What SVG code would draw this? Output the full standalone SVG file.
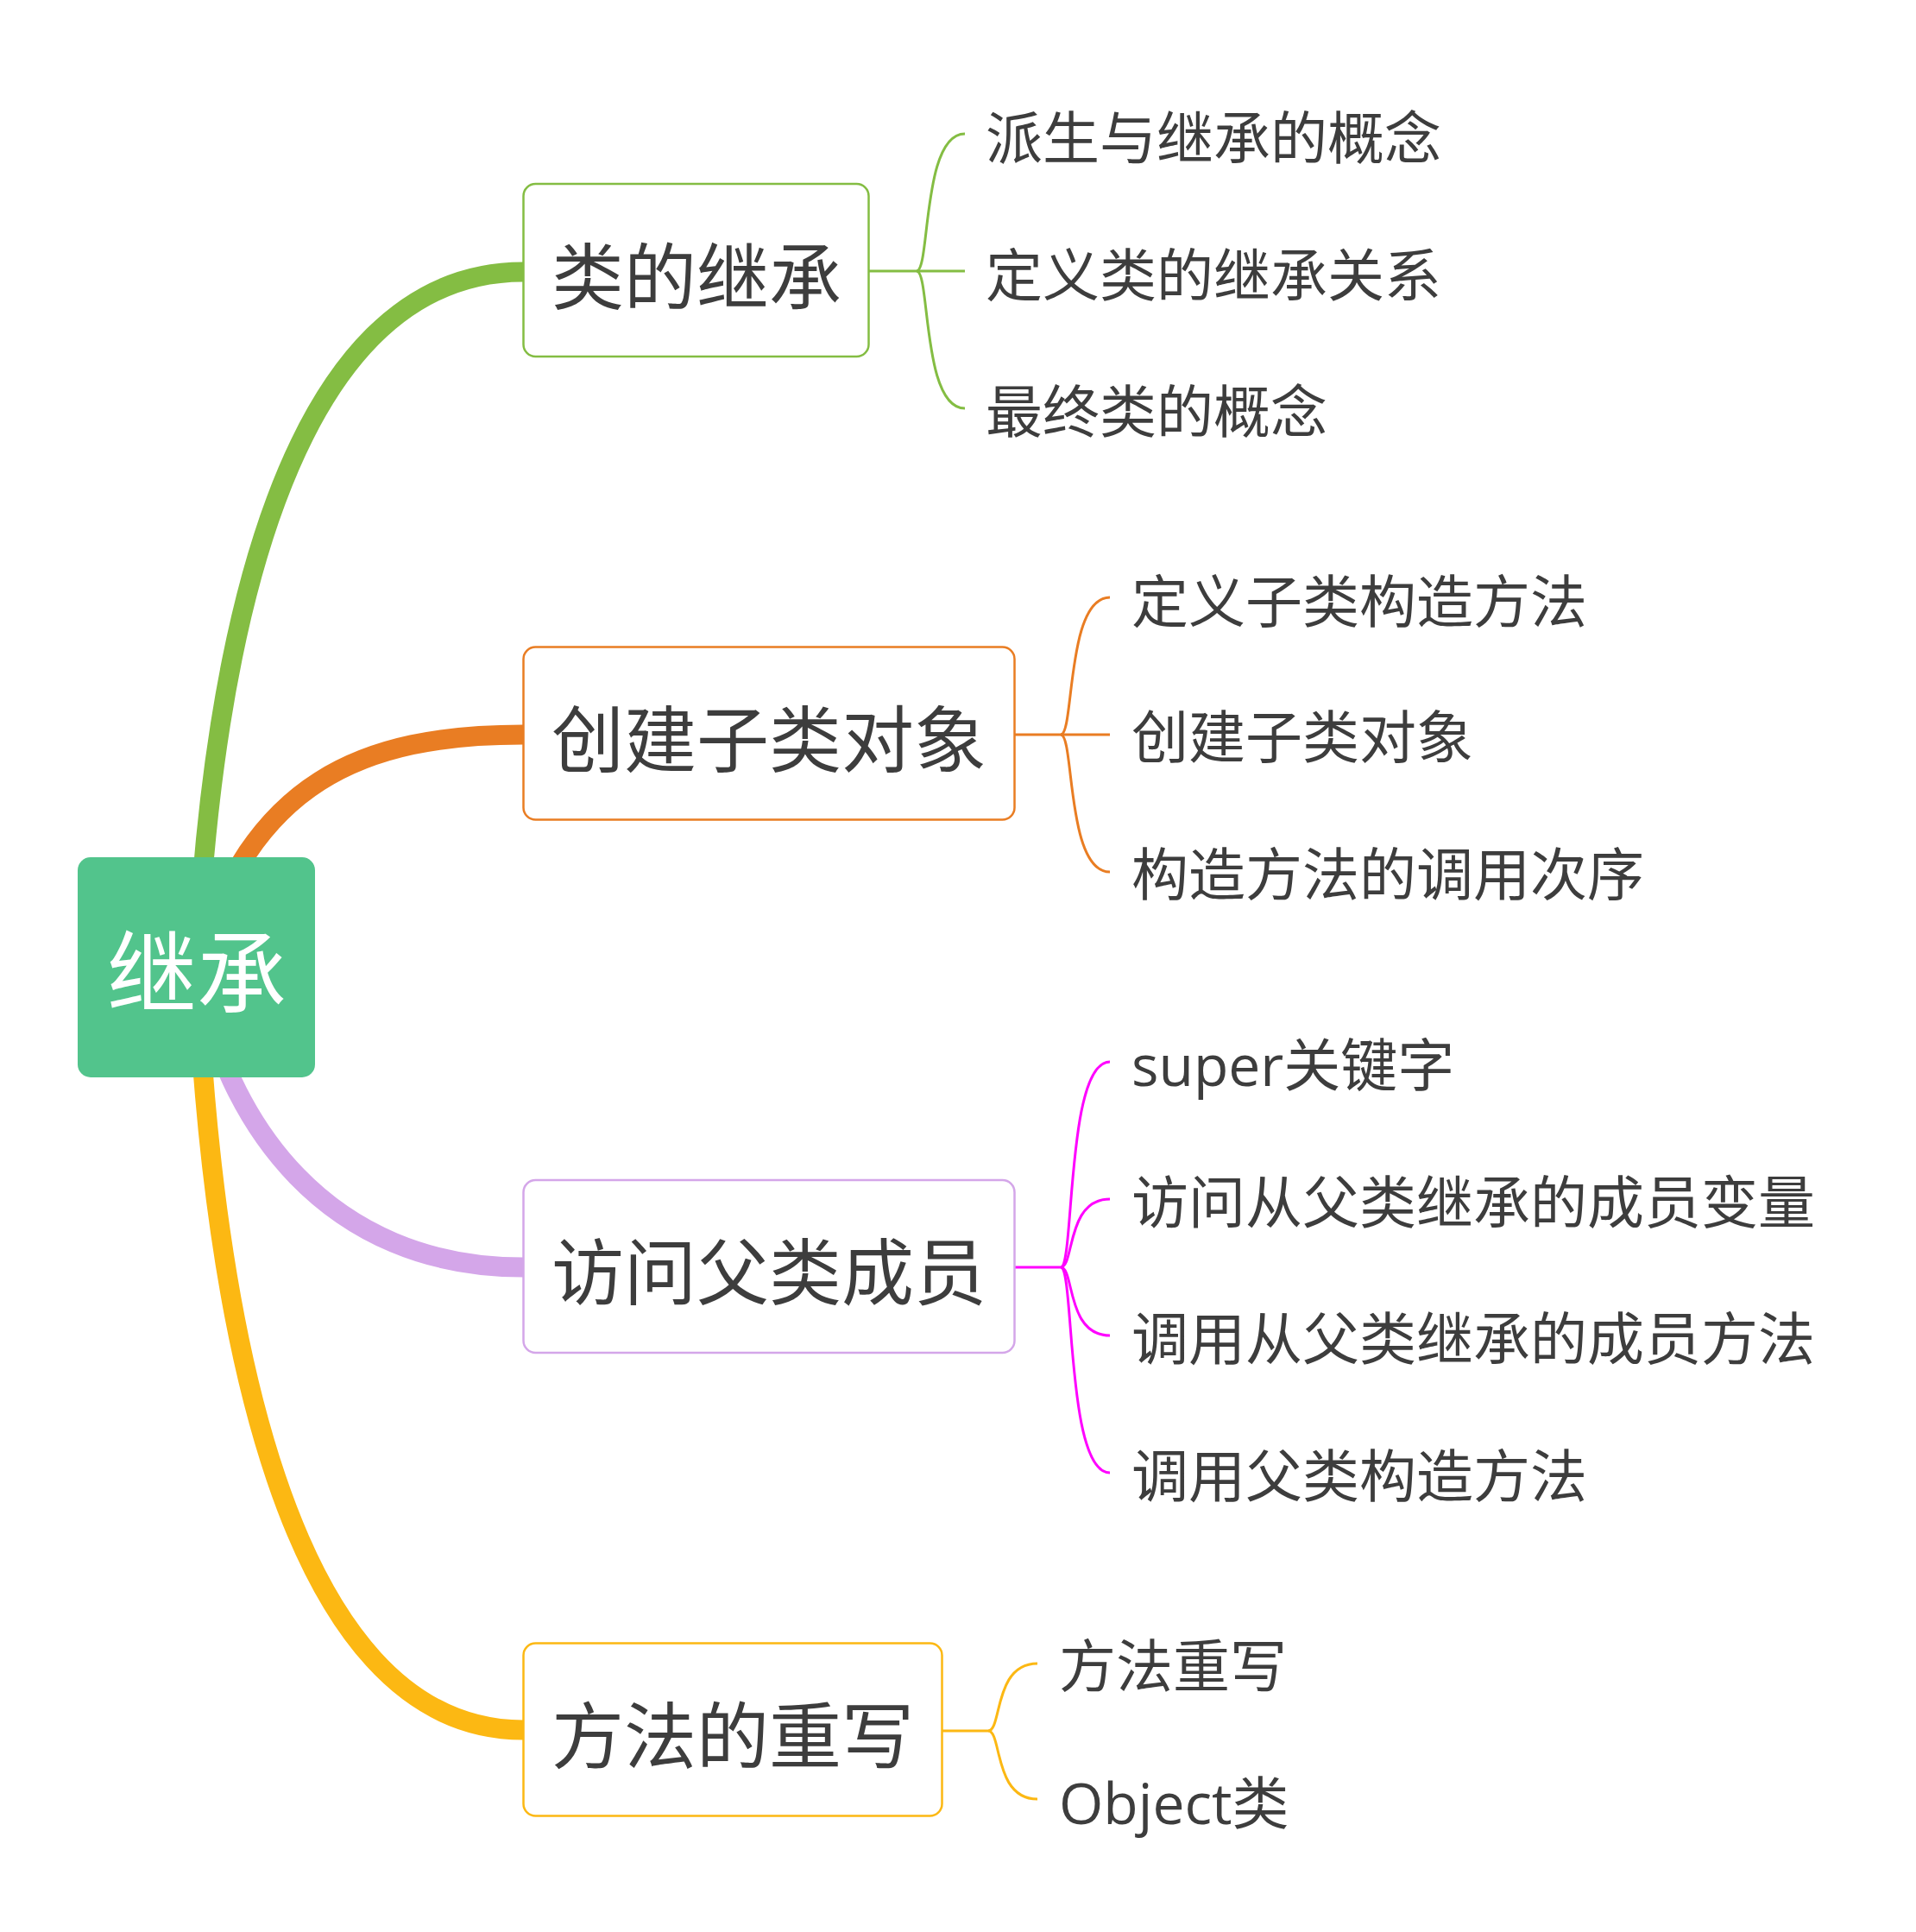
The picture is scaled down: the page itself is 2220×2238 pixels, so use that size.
<svg xmlns="http://www.w3.org/2000/svg" width="2220" height="2238" viewBox="0 0 2220 2238">
<style>
text{font-family:"Open Sans","Noto Sans CJK SC",sans-serif;fill:#3d3d3d}
.main{font-size:84px}
.leaf{font-size:66px}
.root{font-size:104px;fill:#ffffff;text-anchor:middle}
.thick{fill:none;stroke-width:23}
.thin{fill:none;stroke-width:3}
.box{fill:#ffffff;stroke-width:2.5}
</style>
<rect width="2220" height="2238" fill="#ffffff"/>
<g id="connectors">
<path class="thick" stroke="#84BD43" d="M228,1120 C245,752 330,315 606,315"/>
<path class="thick" stroke="#E97D23" d="M228,1120 C290,905 420,851 606,851"/>
<path class="thick" stroke="#D4A6E9" d="M228,1120 C260,1303 380,1468 606,1468"/>
<path class="thick" stroke="#FCB813" d="M228,1120 C245,1520 330,2004 606,2004"/>
<g stroke="#84BD43">
<path class="thin" d="M1007,314 H1118"/>
<path class="thin" d="M1062,314 C1078,314 1068,155 1118,155"/>
<path class="thin" d="M1062,314 C1078,314 1068,473 1118,473"/>
</g>
<g stroke="#E97D23">
<path class="thin" d="M1176,851 H1286"/>
<path class="thin" d="M1229,851 C1245,851 1235,692 1286,692"/>
<path class="thin" d="M1229,851 C1245,851 1235,1010 1286,1010"/>
</g>
<g stroke="#FF00FF">
<path class="thin" d="M1176,1468 H1229"/>
<path class="thin" d="M1229,1468 C1245,1468 1235,1230 1286,1230"/>
<path class="thin" d="M1229,1468 C1245,1468 1235,1389 1286,1389"/>
<path class="thin" d="M1229,1468 C1245,1468 1235,1547 1286,1547"/>
<path class="thin" d="M1229,1468 C1245,1468 1235,1706 1286,1706"/>
</g>
<g stroke="#FCB813">
<path class="thin" d="M1092,2005 H1145"/>
<path class="thin" d="M1145,2005 C1161,2005 1151,1927 1202,1927"/>
<path class="thin" d="M1145,2005 C1161,2005 1151,2084 1202,2084"/>
</g>
</g>
<g id="root">
<rect x="90" y="993" width="275" height="255" rx="15" fill="#52C48C"/>
<text class="root" x="228" y="1166">继承</text>
</g>
<g id="node-class-inherit">
<rect class="box" x="606.5" y="213" width="400" height="200" rx="14" stroke="#84BD43"/>
<text class="main" x="639" y="352">类的继承</text>
</g>
<g id="node-create-sub">
<rect class="box" x="606.5" y="749.5" width="569" height="200" rx="14" stroke="#E97D23"/>
<text class="main" x="639" y="888">创建子类对象</text>
</g>
<g id="node-access-parent">
<rect class="box" x="606.5" y="1367" width="569" height="200" rx="14" stroke="#D4A6E9"/>
<text class="main" x="639" y="1505">访问父类成员</text>
</g>
<g id="node-override">
<rect class="box" x="606.5" y="1903.5" width="485" height="200" rx="14" stroke="#FCB813"/>
<text class="main" x="639" y="2042">方法的重写</text>
</g>
<g id="leaf-1"><text class="leaf" x="1142" y="184">派生与继承的概念</text></g>
<g id="leaf-2"><text class="leaf" x="1142" y="343">定义类的继承关系</text></g>
<g id="leaf-3"><text class="leaf" x="1142" y="501">最终类的概念</text></g>
<g id="leaf-4"><text class="leaf" x="1311" y="721">定义子类构造方法</text></g>
<g id="leaf-5"><text class="leaf" x="1311" y="878">创建子类对象</text></g>
<g id="leaf-6"><text class="leaf" x="1311" y="1037">构造方法的调用次序</text></g>
<g id="leaf-7"><text class="leaf" x="1311" y="1258">super关键字</text></g>
<g id="leaf-8"><text class="leaf" x="1311" y="1417">访问从父类继承的成员变量</text></g>
<g id="leaf-9"><text class="leaf" x="1311" y="1575">调用从父类继承的成员方法</text></g>
<g id="leaf-10"><text class="leaf" x="1311" y="1734">调用父类构造方法</text></g>
<g id="leaf-11"><text class="leaf" x="1227" y="1954">方法重写</text></g>
<g id="leaf-12"><text class="leaf" x="1227" y="2113">Object类</text></g>
</svg>
